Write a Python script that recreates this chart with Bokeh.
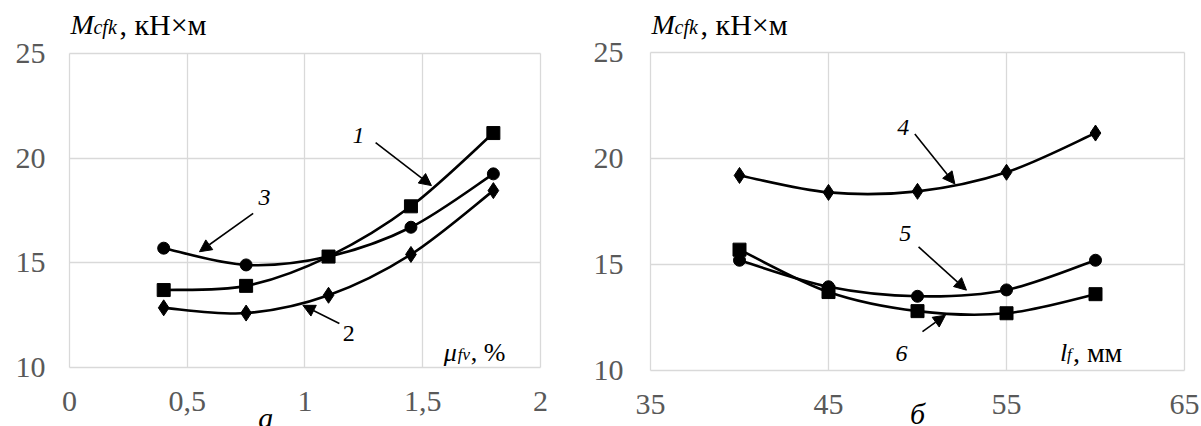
import numpy as np
from bokeh.plotting import figure
from bokeh.layouts import row
from bokeh.models import FixedTicker, Label, Arrow, NormalHead, Range1d
from bokeh.embed import file_html
from bokeh.resources import INLINE

# ---- data: panel "а" (x = mu_fv, %) ----
mu_fv = [0.4, 0.75, 1.1, 1.45, 1.8]
curve1 = [13.7, 13.9, 15.3, 17.7, 21.2]     # squares
curve2 = [12.85, 12.6, 13.45, 15.4, 18.45]  # diamonds
curve3 = [15.7, 14.9, 15.3, 16.7, 19.25]    # circles

# ---- data: panel "б" (x = l_f, мм) ----
l_f = [40, 45, 50, 55, 60]
curve4 = [19.2, 18.4, 18.45, 19.35, 21.2]   # diamonds
curve5 = [15.2, 13.95, 13.5, 13.8, 15.2]    # circles
curve6 = [15.7, 13.7, 12.8, 12.7, 13.6]     # squares

xticks_a = [0, 0.5, 1, 1.5, 2]
xlabels_a = ["0", "0,5", "1", "1,5", "2"]
xticks_b = [35, 45, 55, 65]
xlabels_b = ["35", "45", "55", "65"]
yticks = [10, 15, 20, 25]
ylabels = ["10", "15", "20", "25"]

SERIF = "Liberation Serif"
GRID = "#d9d9d9"
TICK = "#595959"


def make_fig(xr, yr, xticks, xlabels, w, h, bl, br):
    p = figure(x_range=Range1d(*xr), y_range=Range1d(*yr),
               width=w, height=h,
               min_border_left=bl, min_border_right=br,
               min_border_top=0, min_border_bottom=0,
               output_backend="svg", toolbar_location=None)
    p.outline_line_color = None
    for ax, tk, lb in ((p.xaxis[0], xticks, xlabels), (p.yaxis[0], yticks, ylabels)):
        ax.ticker = FixedTicker(ticks=tk)
        ax.major_label_overrides = {t: l for t, l in zip(tk, lb)}
        ax.axis_line_color = None
        ax.major_tick_line_color = None
        ax.minor_tick_line_color = None
        ax.major_label_text_font = SERIF
        ax.major_label_text_font_size = "30px"
        ax.major_label_text_color = TICK
    p.xaxis.fixed_location = yticks[0]
    p.xaxis.major_label_standoff = 19
    p.yaxis.major_label_standoff = 1
    p.xgrid.ticker = FixedTicker(ticks=xticks)
    p.ygrid.ticker = FixedTicker(ticks=yticks)
    p.xgrid.cross_bounds = (yticks[0], yticks[-1])
    p.ygrid.cross_bounds = (xticks[0], xticks[-1])
    p.grid.grid_line_color = GRID
    p.grid.grid_line_width = 1.3
    return p


def smooth(p, x, y):
    x = np.asarray(x, float)
    y = np.asarray(y, float)
    n = len(x)
    xp = np.concatenate([[x[0]], x, [x[-1]]])
    yp = np.concatenate([[y[0]], y, [y[-1]]])
    cx0 = x[:-1] + (xp[2:n + 1] - xp[0:n - 1]) / 6
    cy0 = y[:-1] + (yp[2:n + 1] - yp[0:n - 1]) / 6
    cx1 = x[1:] - (xp[3:n + 2] - xp[1:n]) / 6
    cy1 = y[1:] - (yp[3:n + 2] - yp[1:n]) / 6
    p.bezier(x0=x[:-1], y0=y[:-1], x1=x[1:], y1=y[1:],
             cx0=cx0, cy0=cy0, cx1=cx1, cy1=cy1,
             line_color="black", line_width=2.6)


def series(p, x, y, marker):
    smooth(p, x, y)
    size = {"square": 13, "circle": 12, "diamond": 16}[marker]
    p.scatter(x, y, marker=marker, size=size, fill_color="black", line_color="black")


def lab(p, x, y, text, size, style="italic", align="left", baseline="alphabetic",
        x_offset=0, color="black"):
    p.add_layout(Label(x=x, y=y, text=text, text_font=SERIF,
                       text_font_size=f"{size}px", text_font_style=style,
                       text_align=align, text_baseline=baseline,
                       text_color=color, x_offset=x_offset))


def arrow(p, xs, ys, xe, ye):
    p.add_layout(Arrow(x_start=xs, y_start=ys, x_end=xe, y_end=ye,
                       line_color="black", line_width=1.6,
                       end=NormalHead(size=12, fill_color="black",
                                      line_color="black")))


# ---------- panel а ----------
p1 = make_fig((-0.0722, 2.170), (7.1815, 27.532), xticks_a, xlabels_a, 580, 426, 52, 0)
series(p1, mu_fv, curve1, "square")
series(p1, mu_fv, curve3, "circle")
series(p1, mu_fv, curve2, "diamond")

lab(p1, 0.004, 26.38, "M", 28)
lab(p1, 0.004, 26.28, "cfk", 20, x_offset=23)
lab(p1, 0.004, 26.38, ", кН×м", 30, style="normal", x_offset=49)

lab(p1, 1.589, 10.71, "μ", 26)
lab(p1, 1.589, 10.61, "fv", 17, x_offset=14)
lab(p1, 1.589, 10.71, ", %", 26, style="normal", x_offset=27)

lab(p1, 1.227, 21.1, "1", 24, align="center", baseline="middle")
arrow(p1, 1.30, 20.74, 1.537, 18.69)
lab(p1, 0.828, 18.13, "3", 24, align="center", baseline="middle")
arrow(p1, 0.78, 17.36, 0.552, 15.53)
lab(p1, 1.186, 11.62, "2", 24, style="normal", align="center", baseline="middle")
arrow(p1, 1.146, 12.1, 0.991, 12.97)

lab(p1, 0.833, 7.63, "а", 30, align="center")

# ---------- panel б ----------
p2 = make_fig((33.876, 65.955), (7.358, 27.453), xticks_b, xlabels_b, 621, 426, 50, 0)
series(p2, l_f, curve4, "diamond")
series(p2, l_f, curve5, "circle")
series(p2, l_f, curve6, "square")

lab(p2, 35.06, 26.32, "M", 28)
lab(p2, 35.06, 26.22, "cfk", 20, x_offset=23)
lab(p2, 35.06, 26.32, ", кН×м", 30, style="normal", x_offset=49)

lab(p2, 58.0, 10.85, "l", 26)
lab(p2, 58.0, 10.75, "f", 17, x_offset=7)
lab(p2, 58.0, 10.85, ", мм", 28, style="normal", x_offset=13)

lab(p2, 49.2, 21.48, "4", 24, align="center", baseline="middle")
arrow(p2, 49.85, 21.16, 52.1, 18.8)
lab(p2, 49.31, 16.46, "5", 24, align="center", baseline="middle")
arrow(p2, 50.06, 15.83, 52.75, 13.79)
lab(p2, 49.1, 10.8, "6", 24, align="center", baseline="middle")
arrow(p2, 50.28, 11.83, 51.57, 12.61)

lab(p2, 50.0, 7.97, "б", 30, align="center")

layout = row(p1, p2)
open("out.html", "w").write(file_html(layout, INLINE))
